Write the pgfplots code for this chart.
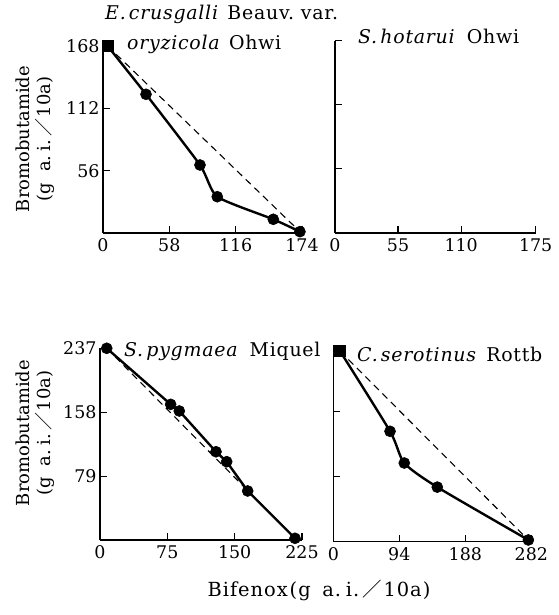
\documentclass[border=0pt]{standalone}
\usepackage{fontspec}
\setmainfont{DejaVu Serif}
\newfontfamily\cjk{Noto Sans CJK JP}
\usepackage{pgfplots}
\pgfplotsset{compat=1.18}

\pgfplotsset{
  panel/.style={
    scale only axis, clip=false,
    axis x line=bottom, axis y line=left,
    axis line style={-, line width=1.4pt},
    tick align=inside, major tick length=7bp,
    tick style={line width=1.2pt, black},
    xmin=0, ymin=0, enlargelimits=false,
    tick label style={font=\fontsize{17.5}{21}\selectfont},
    xticklabel={\pgfmathprintnumber[assume math mode=true]{\tick}},
    yticklabel={\pgfmathprintnumber[assume math mode=true]{\tick}},
    xticklabel style={yshift=-2bp},
  },
  datacurve/.style={black, line width=2.4pt, mark=*, mark size=5.5bp,
    mark options={line width=0.6pt}},
  refline/.style={black, line width=1.1pt, dash pattern=on 7bp off 5bp},
}
\newcommand\lbl{\fontsize{19}{22}\selectfont\addfontfeatures{LetterSpace=4}}
\newcommand\unit{(g\hspace{0.6em}a.\hspace{0.25em}i.\hspace{0.15em}{\cjk ／}\hspace{0.1em}10a)}

\begin{document}
\begin{tikzpicture}
\path[use as bounding box] (0,0) rectangle (559bp,615bp);

% top left
\begin{axis}[panel, at={(103bp,382bp)}, anchor=south west,
  width=199bp, height=187bp, xmax=174, ymax=168,
  xtick={0,58,116,174}, ytick={56,112,168}]
\addplot[refline] coordinates {(4,168) (172.2,1.2)};
\addplot[datacurve, smooth, tension=0.35, mark indices={2,3,4,5,6}] coordinates
  {(4,168) (37.6,124.6) (84.8,61.1) (99.9,32.6) (148.9,12.3) (172.2,1.2)};
\addplot[only marks, mark=square*, mark size=5.5bp] coordinates {(4,168)};
\end{axis}

% top right
\begin{axis}[panel, at={(335bp,382bp)}, anchor=south west,
  width=200.7bp, height=192.3bp, xmax=175, ymax=168,
  xtick={0,55,110,175}, ytick={56,112,168}, yticklabels={}]
\end{axis}

% bottom left
\begin{axis}[panel, at={(100bp,75bp)}, anchor=south west,
  width=202bp, height=191.7bp, xmax=225, ymax=237,
  xtick={0,75,150,225}, ytick={79,158,237}]
\addplot[refline] coordinates {(7.5,237) (217.2,2.1)};
\addplot[datacurve] coordinates
  {(7.5,237) (78.7,167.7) (88.3,159.5) (129.2,109.1) (141.1,96.8) (164.5,60.6) (217.2,2.1)};
\end{axis}

% bottom right
\begin{axis}[panel, at={(333.3bp,73.3bp)}, anchor=south west,
  width=198bp, height=195.7bp, xmax=282, ymax=237,
  xtick={0,94,188,282}, ytick={79,158,237}, yticklabels={}]
\addplot[refline] coordinates {(9.5,230.9) (277.8,2.1)};
\addplot[datacurve, smooth, tension=0.4, mark indices={2,3,4,5}] coordinates
  {(9.5,230.9) (80.8,133.7) (101.1,95.3) (148.1,66.1) (277.8,2.1)};
\addplot[only marks, mark=square*, mark size=5.5bp] coordinates {(9.5,230.9)};
\end{axis}

\begin{scope}[every node/.style={font=\lbl, inner sep=0pt}]
\node[anchor=base west] at (105bp,595bp) {\textit{E.\,crusgalli}\hspace{0.45em}Beauv.\hspace{0.35em}var.};
\node[anchor=base west] at (127bp,565bp) {\textit{oryzicola}\hspace{0.45em}Ohwi};
\node[anchor=base west] at (358bp,571bp) {\textit{S.\,hotarui}\hspace{0.6em}Ohwi};
\node[anchor=base west] at (124bp,258bp) {\textit{S.\,pygmaea}\hspace{0.6em}Miquel};
\node[anchor=base west] at (357bp,253bp) {\textit{C.\,serotinus}\hspace{0.5em}Rottb};
\node[rotate=90, align=center, font=\fontsize{18}{21}\selectfont] at (35bp,476bp) {Bromobutamide\\\unit};
\node[rotate=90, align=center, font=\fontsize{18}{21}\selectfont] at (35bp,182bp) {Bromobutamide\\\unit};
\node[anchor=base, font=\fontsize{19.5}{22}\selectfont\addfontfeatures{LetterSpace=5}] at (319bp,19bp) {Bifenox\hspace{0.1em}\unit};
\end{scope}
\end{tikzpicture}
\end{document}
